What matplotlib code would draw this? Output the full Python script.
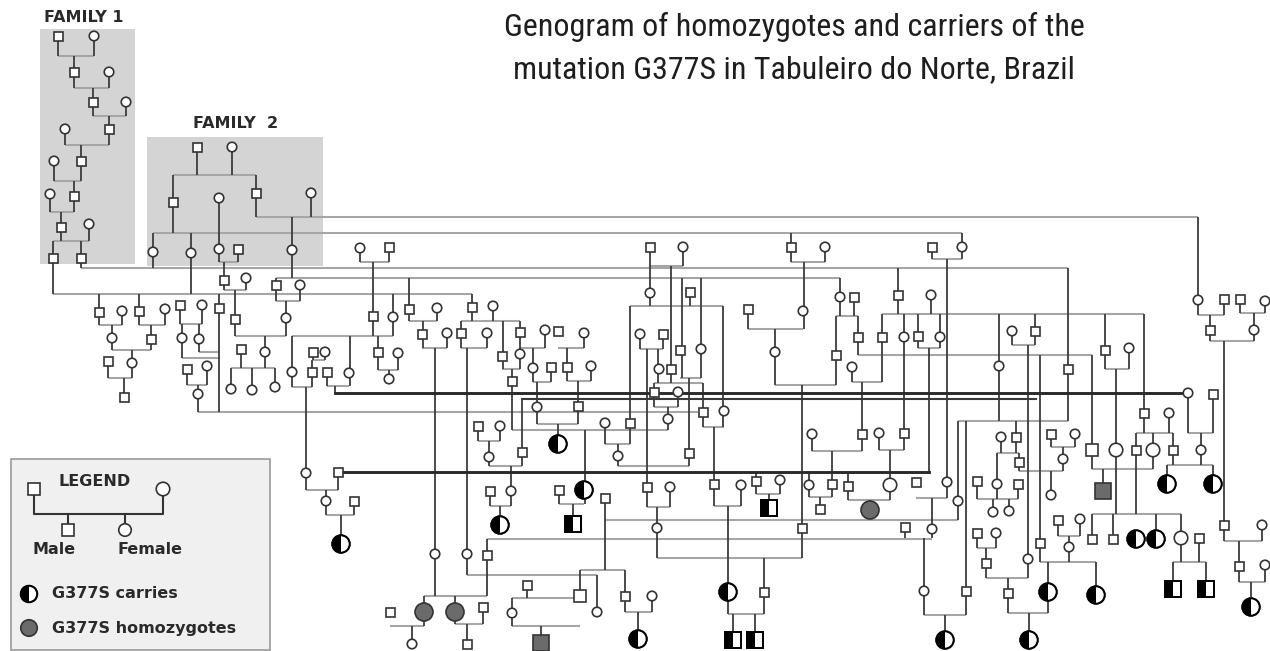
import matplotlib.pyplot as plt
from matplotlib.patches import Rectangle, Circle, Wedge

# ---- people (pixel positions of the original figure) ----
males = [(58,36),(74,72),(93,102),(109,129),(81,161),(74,196),(61,227),(53,258),(81,258),
         (197,147),(173,202),(256,193),(238,249),(224,280),
         (99,312),(139,311),(151,339),(108,361),(124,397),(180,305),(219,308),(187,369),(235,319),(276,285),(241,349),
         (389,247),(373,316),(313,352),(312,372),(327,372),(378,352),(409,309),(422,334),(472,307),(461,333),(502,356),
         (512,381),(520,332),(551,367),(558,331),(567,367),(578,406),(478,426),(522,452),(630,423),(338,472),
         (650,247),(690,292),(663,334),(671,369),(680,350),(654,392),(703,412),(689,453),(748,309),(854,297),(836,355),
         (858,337),(898,295),(882,337),(918,336),(862,434),(904,433),(932,247),(791,247),
         (1035,331),(1068,369),(1105,350),(1144,413),(1213,394),(1016,437),(1051,434),(1019,462),(1224,299),(1240,299),
         (1210,330),(1136,450),(1173,450),
         (354,501),(390,612),(483,607),(467,644),(527,585),(487,555),(490,491),(559,490),(605,498),(625,596),(647,487),
         (764,592),(714,484),(756,481),(832,484),(820,509),(848,486),(916,482),(905,527),(966,591),(802,528),
         (977,481),(1018,484),(977,533),(986,563),(1008,593),(1040,543),(1058,520),(1092,539),(1113,539),(1199,538),
         (1224,525),(1239,566)]
females = [(94,36),(109,72),(126,102),(65,129),(54,161),(50,194),(89,224),
           (232,147),(219,198),(311,193),(153,252),(191,253),(219,249),(292,250),(246,278),
           (122,311),(165,309),(112,338),(132,363),(202,305),(182,338),(199,339),(207,366),(198,394),(300,285),(286,318),
           (265,352),(231,389),(252,390),(275,387),
           (360,248),(393,317),(325,352),(292,372),(349,373),(398,353),(389,379),(437,308),(447,333),(493,306),(487,333),
           (520,354),(545,330),(533,368),(584,333),(591,366),(537,407),(500,426),(489,457),(605,423),(618,456),(306,473),
           (683,247),(650,293),(640,334),(659,369),(701,349),(678,392),(668,419),(724,411),(803,311),(775,352),(840,297),
           (931,295),(904,337),(940,337),(852,367),(812,434),(879,433),(962,247),(825,247),
           (999,366),(1012,331),(1129,348),(1169,413),(1188,393),(1001,437),(1075,434),(1063,459),(1198,300),(1265,301),
           (1254,330),(1201,450),
           (326,501),(435,554),(467,554),(412,644),(512,613),(597,612),(511,491),(652,596),(670,487),(657,528),(741,485),
           (780,480),(809,485),(947,482),(932,529),(924,591),(958,501),(1051,495),
           (997,484),(993,512),(1009,511),(996,533),(1028,559),(1080,519),(1069,547),(1262,525),(1265,565)]
big_males = [(580,596),(1092,450)]
big_females = [(890,485),(1116,450),(1153,450),(1181,538)]
carrier_males = [(573,524),(769,508),(733,640),(755,640),(1173,589),(1206,589)]
carrier_females = [(558,444),(341,544),(500,525),(584,490),(728,592),(638,639),(945,640),(1029,640),(1048,592),
                   (1096,595),(1136,539),(1156,539),(1167,484),(1213,484),(1251,607)]
homo_males = [(541,643),(1103,491)]
homo_females = [(424,612),(455,612),(870,510)]

# ---- connecting lines: horizontal (x1, x2, y) and vertical (x, y1, y2) ----
h_lines = [(58,94,56),(74,109,88),(93,126,116),(65,109,145),(54,81,181),(50,74,212),(53,89,241),
           (53,472,294),(81,1068,268),
           (173,256,175),(256,1198,217),(153,962,233),(219,238,262),(224,246,290),(276,840,278),
           (99,122,325),(139,165,325),(112,151,350),(108,132,378),(180,202,324),(199,219,352),(182,219,358),
           (187,207,385),(198,698,412),(276,300,301),(235,286,336),(231,275,368),
           (360,389,262),(292,393,336),(378,398,370),(313,325,360),(292,312,387),(327,349,386),(409,437,321),
           (422,447,348),(461,520,321),(461,487,348),(502,520,369),(512,668,430),(520,545,348),(533,551,382),
           (558,584,348),(567,591,381),(537,578,424),(478,500,441),(489,522,466),(605,630,444),(618,689,466),
           (630,723,306),(640,663,349),(306,338,490),(326,354,515),
           (650,683,266),(680,701,378),(654,703,383),(654,678,407),(703,724,427),(748,803,329),(775,836,385),
           (791,825,262),(836,858,316),(858,1092,355),(882,1144,314),(852,882,382),(812,862,451),(879,904,450),
           (918,940,348),(932,962,259),
           (1198,1224,315),(1240,1265,313),(1210,1254,341),(958,1068,421),(1012,1035,345),(1105,1129,369),
           (1136,1173,433),(1188,1213,433),(1167,1213,465),(997,1019,453),(1051,1075,447),(1019,1063,471),
           (605,958,520),(487,932,539),(424,487,596),(467,597,575),(390,424,626),(455,483,624),(512,580,598),
           (512,580,626),(490,511,506),(559,584,504),(580,625,570),(625,652,612),(647,670,507),(657,802,558),
           (714,741,506),(728,764,614),(756,780,494),(809,832,497),(848,890,500),(916,947,498),(924,966,615),
           (977,1018,499),(977,996,548),(986,1028,578),(1008,1048,613),(1040,1096,562),(1058,1080,536),
           (1092,1153,469),(1092,1181,514),(1173,1206,562),(1224,1262,541),(1239,1265,582)]
v_lines = [(58,36,56),(94,36,56),(74,56,72),(74,72,88),(109,72,88),(93,88,102),(93,102,116),(126,102,116),
           (109,116,129),(109,129,145),(65,129,145),(81,145,161),(54,161,181),(81,161,181),(74,181,196),(50,194,212),
           (74,196,212),(61,212,227),(61,227,241),(89,224,241),(53,241,258),(81,241,258),(53,258,294),(81,258,268),
           (197,147,175),(232,147,175),(173,175,233),(256,175,217),(311,193,217),(292,217,278),(219,198,249),
           (153,233,268),(191,233,294),(791,233,262),(962,233,259),(825,247,262),(219,249,262),(238,249,262),
           (224,262,280),(224,280,290),(246,278,290),(235,290,319),
           (99,294,325),(122,311,325),(139,294,325),(165,309,325),(112,325,350),(151,325,350),(132,350,378),
           (108,361,378),(124,378,397),(180,305,324),(202,305,324),(182,324,358),(199,324,352),(219,294,412),
           (187,369,385),(207,366,385),(198,385,412),(276,278,301),(300,285,301),(286,301,336),(235,319,336),
           (265,336,368),(241,349,368),(231,368,389),(252,368,390),(275,368,387),
           (360,248,262),(389,247,262),(373,262,336),(393,294,336),(292,336,387),(350,336,386),(378,336,370),
           (398,353,370),(389,370,379),(313,352,360),(325,352,360),(312,360,387),(306,387,490),(327,372,386),
           (335,386,393),(409,278,321),(437,308,321),(423,321,348),(447,333,348),(435,348,596),(472,294,321),
           (493,306,321),(461,321,348),(487,333,348),(467,348,575),(503,321,369),(520,321,369),(512,369,430),
           (545,330,348),(533,348,382),(551,367,382),(537,382,424),(584,333,348),(567,348,381),(591,366,381),
           (578,381,424),(558,424,444),(522,399,466),(478,426,441),(500,426,441),(489,441,466),(511,466,506),
           (605,423,444),(630,306,444),(618,444,466),(640,334,349),(663,334,349),(658,349,383),(647,349,507),
           (338,472,490),(326,490,515),(354,501,515),(341,515,544),(585,430,504),
           (650,247,306),(683,247,266),(671,266,383),(690,292,306),(723,306,427),(682,278,378),(701,278,378),
           (689,378,466),(654,383,407),(703,383,427),(678,392,407),(668,407,430),(714,427,506),(748,309,329),
           (804,262,329),(775,329,385),(836,316,385),(802,385,558),(840,278,316),(854,297,316),(858,316,355),
           (898,268,314),(931,295,314),(882,314,382),(904,314,450),(918,314,348),(940,314,348),(852,367,382),
           (862,382,451),(812,434,451),(832,451,497),(879,433,450),(890,450,500),(929,348,472),(932,247,259),
           (947,259,498),(756,472,494),(809,472,497),(848,472,500),
           (1198,217,315),(1224,299,315),(1210,315,341),(1240,299,313),(1265,301,313),(1254,313,341),
           (1224,341,541),(999,314,421),(1068,268,421),(1035,314,345),(1012,331,345),(1028,345,578),
           (1105,314,369),(1129,348,369),(1116,369,514),(1144,314,433),(1169,413,433),(1136,433,514),
           (1153,433,469),(1173,433,465),(1188,393,433),(1213,394,433),(1201,433,465),(1167,465,484),
           (1213,465,484),(1040,355,562),(1092,355,469),(1016,421,453),(1001,437,453),(997,453,499),
           (1019,453,471),(1051,434,447),(1075,434,447),(1063,447,471),(1051,471,495),(958,421,520),(966,421,615),
           (605,498,570),(580,570,598),(625,570,612),(652,596,612),(638,612,639),(487,539,596),(424,596,626),
           (455,596,624),(483,607,624),(412,626,644),(467,624,644),(527,585,598),(512,598,626),(541,626,643),
           (597,575,612),(490,491,506),(573,504,524),(559,490,504),(500,506,525),(670,487,507),(657,507,558),
           (764,558,614),(728,506,614),(733,614,640),(755,614,640),(741,485,506),(780,480,494),(769,494,508),
           (820,497,509),(870,500,510),(932,498,538),(905,527,538),(924,538,615),(945,615,640),
           (977,481,499),(1018,484,499),(993,499,512),(1009,499,511),(977,533,548),(996,533,548),(986,548,578),
           (1008,578,613),(1048,562,613),(1029,613,640),(1096,562,595),(1058,520,536),(1080,519,536),
           (1069,536,562),(1103,469,491),(1092,514,539),(1113,514,539),(1156,514,539),(1181,514,562),
           (1199,538,562),(1173,562,589),(1206,562,589),(1262,525,541),(1239,541,582),(1265,565,582),(1251,582,607)]
# long dark connection lines
thick_lines = [(335,1188,393),(338,929,472)]
dark_lines = [(522,1036,399)]

title_lines = ['Genogram of homozygotes and carriers of the',
               'mutation G377S in Tabuleiro do Norte, Brazil']

fig = plt.figure(figsize=(12.7, 6.51), dpi=100)
ax = fig.add_axes([0, 0, 1, 1])
ax.set_xlim(0, 1270)
ax.set_ylim(651, 0)
ax.axis('off')

EDGE = '#333333'
LIGHT = '#a6a6a6'
DARK = '#3c3c3c'
TXT = '#1e1e1e'
LBL = dict(family='DejaVu Sans', fontweight='bold', fontsize=11.5, color='#2a2a2a')

# family boxes
ax.add_patch(Rectangle((40, 29), 95, 235, fc='#d4d4d4', ec='none', zorder=0))
ax.add_patch(Rectangle((147, 137), 176, 129, fc='#d4d4d4', ec='none', zorder=0))
ax.text(84, 17, 'FAMILY 1', ha='center', va='center', **LBL)
ax.text(236, 123, 'FAMILY  2', ha='center', va='center', **LBL)

for x1, x2, y in h_lines:
    ax.plot([x1, x2], [y, y], color=LIGHT, lw=1.5, zorder=1, solid_capstyle='butt')
for x, y1, y2 in v_lines:
    ax.plot([x, x], [y1, y2], color=DARK, lw=1.3, zorder=2, solid_capstyle='butt')
for x1, x2, y in thick_lines:
    ax.plot([x1, x2], [y, y], color='#2a2a2a', lw=2.1, zorder=2)
for x1, x2, y in dark_lines:
    ax.plot([x1, x2], [y, y], color='#3a3a3a', lw=1.5, zorder=2)


def square(x, y, s, fc='white'):
    ax.add_patch(Rectangle((x - s / 2, y - s / 2), s, s, fc=fc, ec=EDGE, lw=1.2, zorder=4))


def circle(x, y, s, fc='white'):
    ax.add_patch(Circle((x, y), s / 2, fc=fc, ec=EDGE, lw=1.2, zorder=4))


def half_square(x, y, s):
    square(x, y, s)
    ax.add_patch(Rectangle((x - s / 2, y - s / 2), s / 2, s, fc='black', ec='none', zorder=5))
    ax.add_patch(Rectangle((x - s / 2, y - s / 2), s, s, fc='none', ec='black', lw=1.4, zorder=6))


def half_circle(x, y, s):
    circle(x, y, s)
    ax.add_patch(Wedge((x, y), s / 2, 90, 270, fc='black', ec='none', zorder=5))
    ax.add_patch(Circle((x, y), s / 2, fc='none', ec='black', lw=1.4, zorder=6))


for x, y in males:
    square(x, y, 9)
for x, y in females:
    circle(x, y, 9.5)
for x, y in big_males:
    square(x, y, 12.5)
for x, y in big_females:
    circle(x, y, 13.5)
for x, y in carrier_males:
    half_square(x, y, 16)
for x, y in carrier_females:
    half_circle(x, y, 17.5)
for x, y in homo_males:
    square(x, y, 16.5, fc='#6b6b6b')
for x, y in homo_females:
    circle(x, y, 18, fc='#6b6b6b')

# title
for line, y in zip(title_lines, [36, 78]):
    ax.text(794, y, line, ha='center', va='baseline', fontsize=23, color=TXT,
            family=['Roboto Condensed', 'Liberation Sans Narrow', 'DejaVu Sans'])

# legend
ax.add_patch(Rectangle((11, 459), 259, 191, fc='#f0f0f0', ec='#9a9a9a', lw=1.2, zorder=0))
ax.text(95, 481, 'LEGEND', ha='center', va='center', **LBL)
ax.plot([34, 34, 163, 163], [489, 514, 514, 489], color=EDGE, lw=1.5, zorder=2)
ax.plot([68, 68], [514, 530], color=EDGE, lw=1.5, zorder=2)
ax.plot([125, 125], [514, 530], color=EDGE, lw=1.5, zorder=2)
square(34, 489, 12.5)
circle(163, 489, 13.5)
square(68, 530, 12)
circle(125, 530, 12.5)
ax.text(54, 550, 'Male', ha='center', va='center', **LBL)
ax.text(150, 550, 'Female', ha='center', va='center', **LBL)
half_circle(29, 594, 16.5)
ax.text(52, 594, 'G377S carries', ha='left', va='center', **LBL)
circle(29, 628, 16.5, fc='#6b6b6b')
ax.text(52, 628, 'G377S homozygotes', ha='left', va='center', **LBL)

fig.savefig('out.png', dpi=100, facecolor='white')
